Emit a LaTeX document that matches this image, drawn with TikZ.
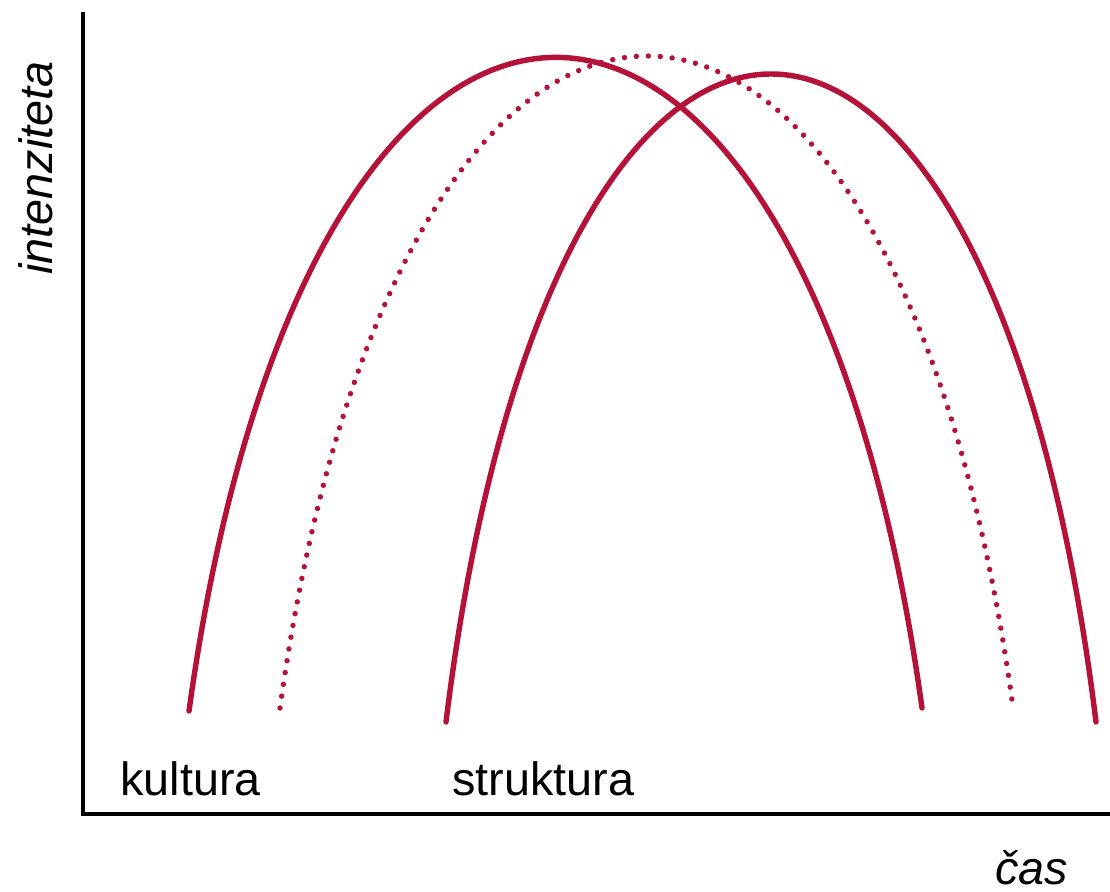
\documentclass[tikz,border=0pt]{standalone}
\usepackage{fontspec}
\setmainfont{Liberation Sans}
\usetikzlibrary{positioning}
\definecolor{arcred}{HTML}{B5123A}
\definecolor{axisink}{HTML}{000000}
\newcommand{\phasearc}[5]{%
  \draw[#1] (#2) .. controls (#3) and (#4) .. (#5);}

\begin{document}
\begin{tikzpicture}[x=0.02cm, y=-0.02cm,
    font=\fontsize{26.6pt}{30pt}\selectfont,
    axisline/.style={draw=axisink, line width=2pt},
    arcline/.style={draw=arcred, line width=3.1pt, line cap=round},
    dotline/.style={draw=arcred, line width=3.1pt, line cap=round,
                    dash pattern=on 0pt off 6.8pt},
    lbl/.style={inner sep=0pt, anchor=base west}]
  \useasboundingbox (0,0) rectangle (1110,892);
  % axes
  \coordinate (top) at (83,12);
  \coordinate (origin) at (83,814);
  \coordinate (right) at (1110,814);
  \draw[axisline] (top) -- (origin) -- (right);
  % curves
  \coordinate (k0) at (189,711);
  \coordinate (k1) at (922,708);
  \coordinate (d0) at (280,708);
  \coordinate (d1) at (1012,700);
  \coordinate (s0) at (446,722);
  \coordinate (s1) at (1096,722);
  \phasearc{arcline}{k0}{309,-160}{802,-160}{k1}
  \phasearc{dotline}{d0}{400,-160}{892,-160}{d1}
  \phasearc{arcline}{s0}{552,-142}{990,-142}{s1}
  % labels
  \node[lbl] (kultura) at (120,795) {kultura};
  \node[lbl] (struktura) at (452,795) {struktura};
  \node[lbl, rotate=90] (ylabel) at (52,275) {\itshape intenziteta};
  \node[lbl] (xlabel) at (995,884) {\itshape čas};
\end{tikzpicture}
\end{document}
